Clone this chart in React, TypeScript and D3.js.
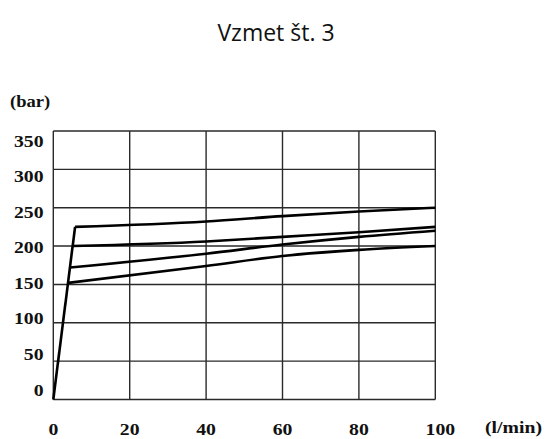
import { useEffect, useRef } from "react";
import * as d3 from "d3";

// x: flow (l/min), y: pressure (bar)
const xTicks = [0, 20, 40, 60, 80, 100];
const yTicks = [0, 50, 100, 150, 200, 250, 300, 350];

// steep start segment
const riseLine: [number, number][] = [
  [0, 0],
  [5.7, 225],
];

const curveA: [number, number][] = [
  [5.7, 225],
  [40, 232],
  [60, 239],
  [80, 245],
  [100, 250],
];
const curveB: [number, number][] = [
  [5.1, 200],
  [40, 206],
  [60, 212],
  [80, 218],
  [100, 225],
];
const curveC: [number, number][] = [
  [4.4, 172],
  [40, 190],
  [60, 202],
  [80, 212],
  [100, 220],
];
const curveD: [number, number][] = [
  [3.9, 152],
  [40, 174],
  [60, 187],
  [80, 195],
  [100, 200],
];

const series = [riseLine, curveA, curveB, curveC, curveD];

export default function App() {
  const svgRef = useRef<SVGSVGElement>(null);
  const width = 546;
  const height = 439;

  useEffect(() => {
    if (!svgRef.current) return;
    const svg = d3.select(svgRef.current);
    svg.selectAll("*").remove();

    const x = d3.scaleLinear().domain([0, 100]).range([53.3, 435.3]);
    const y = d3.scaleLinear().domain([0, 350]).range([399.5, 131]);
    // tick labels in the original don't sit exactly on gridlines
    const yLabel = d3.scaleLinear().domain([0, 350]).range([390, 141]);

    svg.append("rect").attr("width", width).attr("height", height).attr("fill", "#fff");

    // title
    svg
      .append("text")
      .attr("x", 276)
      .attr("y", 41)
      .attr("text-anchor", "middle")
      .attr("font-family", "'Open Sans', sans-serif")
      .attr("font-size", 23)
      .attr("fill", "#111")
      .text("Vzmet št. 3");

    const grid = svg.append("g").attr("stroke", "#2a2a2a").attr("stroke-width", 1.4);

    yTicks.forEach((t) => {
      grid
        .append("line")
        .attr("x1", x(0))
        .attr("x2", x(100))
        .attr("y1", y(t))
        .attr("y2", y(t));
    });
    xTicks.forEach((t) => {
      grid
        .append("line")
        .attr("x1", x(t))
        .attr("x2", x(t))
        .attr("y1", y(0))
        .attr("y2", y(350));
    });

    const line = d3
      .line<[number, number]>()
      .x((d) => x(d[0]))
      .y((d) => y(d[1]))
      .curve(d3.curveMonotoneX);

    series.forEach((s) => {
      svg
        .append("path")
        .datum(s)
        .attr("fill", "none")
        .attr("stroke", "#000")
        .attr("stroke-width", 2.6)
        .attr("stroke-linejoin", "round")
        .attr("d", line);
    });

    const serif = "'Liberation Serif', 'Times New Roman', serif";
    const stretch = 1.16;

    const labelText = (
      tx: number,
      ty: number,
      anchor: string,
      txt: string,
      size = 17
    ) => {
      svg
        .append("text")
        .attr("transform", `translate(${tx},${ty}) scale(${stretch},1)`)
        .attr("text-anchor", anchor)
        .attr("dominant-baseline", "central")
        .attr("font-family", serif)
        .attr("font-weight", "bold")
        .attr("font-size", size)
        .attr("fill", "#111")
        .text(txt);
    };

    yTicks.forEach((t) => labelText(43.5, yLabel(t), "end", String(t)));
    xTicks.forEach((t) => labelText(x(t) + (t === 100 ? 5 : 0), 429, "middle", String(t)));

    labelText(10, 101.5, "start", "(bar)", 16);
    labelText(485, 427, "start", "(l/min)", 17);
  }, []);

  return (
    <svg
      ref={svgRef}
      width={width}
      height={height}
      style={{ position: "absolute", left: 0, top: 0 }}
    />
  );
}
